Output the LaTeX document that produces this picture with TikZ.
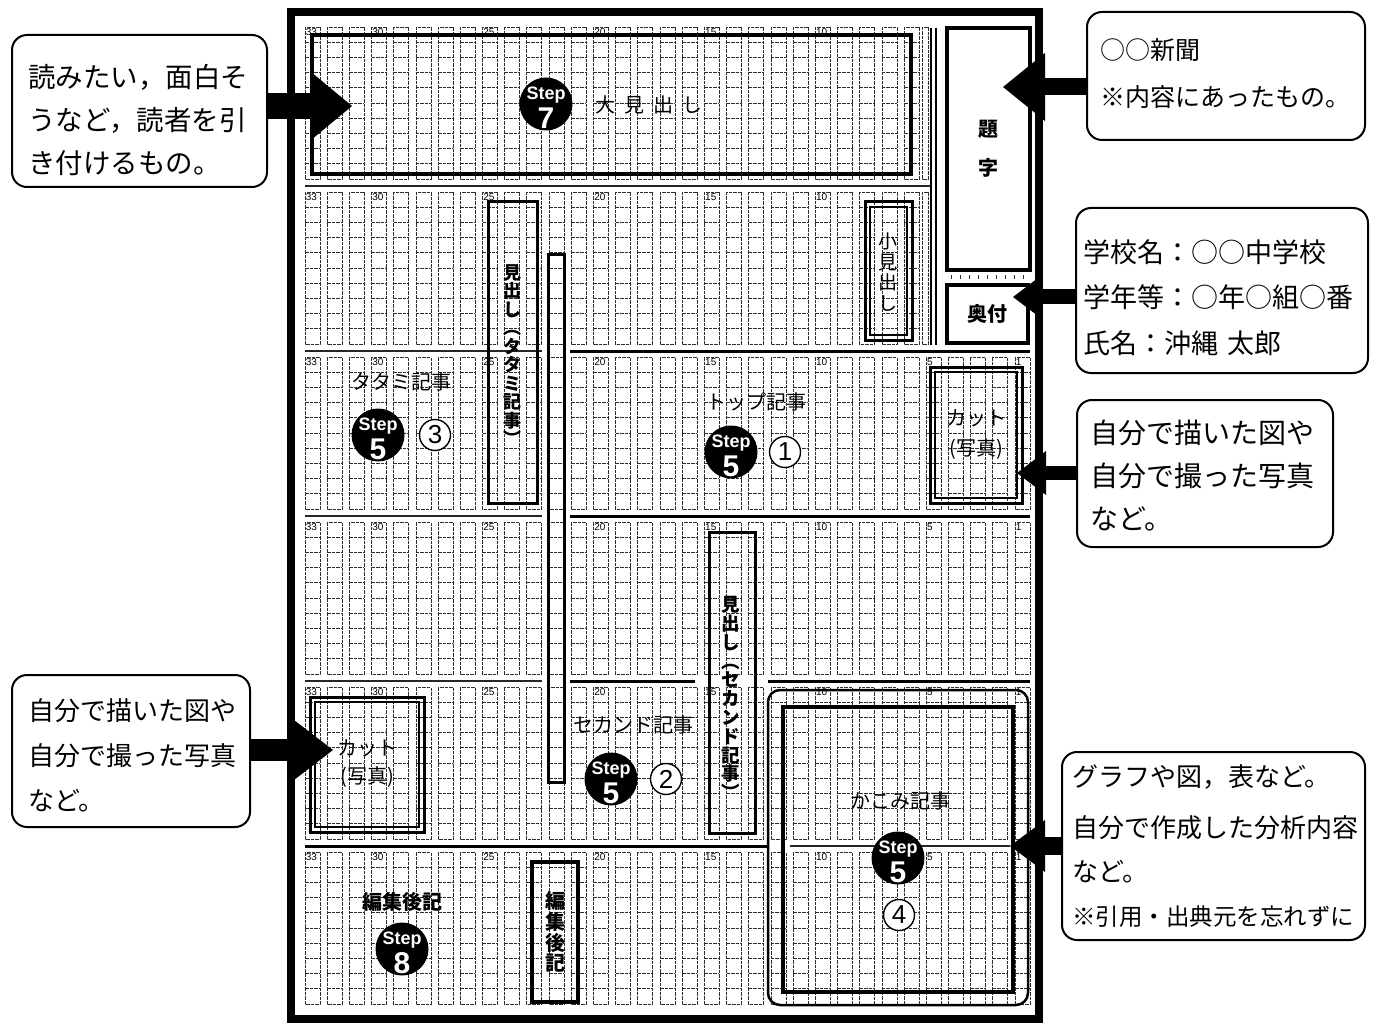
\documentclass[tikz,border=0pt]{standalone}
\usepackage{fontspec}
\setmainfont{Liberation Sans}
\newfontfamily\jp{Noto Sans CJK JP}
\newfontfamily\lat{Liberation Sans}
\usetikzlibrary{arrows.meta}
\newcommand\fs[2]{\fontsize{#1}{#2}\selectfont}
\newcommand\stepmark[4]{%
  \node[stepc] (#1) at (#2,#3) {};
  \node[stepword] (#1w) at ([yshift=8.5pt]#1.center) {Step};
  \node[stepnum] (#1n) at ([yshift=-14pt]#1.center) {#4};
}
\begin{document}
\begin{tikzpicture}[x=1pt,y=-1pt,
  gridcell/.style={draw=black!82, line width=0.9pt, dash pattern=on 3.5pt off 1pt},
  thinsep/.style={draw=black!85, line width=1.3pt},
  thicksep/.style={draw=black, line width=3pt},
  numlbl/.style={font=\lat\fs{10}{10}, inner sep=0.3pt, anchor=north west},
  tbox/.style={draw=black, inner sep=0pt},
  lbl/.style={font=\jp\fs{20}{20}, inner sep=0pt},
  vlbl/.style={font=\jp\bfseries\fs{18}{18.5}, inner sep=0pt, align=center},
  stepc/.style={circle, fill=black, minimum size=53pt, inner sep=0pt},
  stepword/.style={font=\lat\bfseries\fs{18}{18}, text=white, inner sep=0pt},
  stepnum/.style={font=\lat\bfseries\fs{30}{30}, text=white, inner sep=0pt},
  cnum/.style={circle, draw=black, fill=white, line width=1.4pt, minimum size=31pt, inner sep=0pt, font=\lat\fs{26}{26}},
  callout/.style={draw=black, fill=white, line width=2pt, rounded corners=15pt, align=left, inner ysep=0pt},
  bigarrow/.style n args={3}{line width=#1pt, -{Triangle[length=#2pt,width=#3pt,line width=0pt]}},
]
\useasboundingbox (0,0) rectangle (1376,1024);
\fill[white] (0,0) rectangle (1376,1024);

% ---------- manuscript grid ----------
\foreach \b/\kmin in {0/6,1/6,2/1,3/1,4/1,5/1}{
  \pgfmathsetmacro\yt{27+165*\b}
  \foreach \k in {33,...,\kmin}{
    \pgfmathsetmacro\xl{305+22.19*(33-\k)}
    \draw[gridcell] (\xl,\yt) rectangle ++(15,152);
    \foreach \r in {1,...,9}{\draw[gridcell] (\xl,\yt+15.2*\r) -- ++(15,0);}
  }
  \foreach \k in {33,30,25,20,15,10,5,1}{
    \ifnum\k<\kmin\relax\else
      \pgfmathsetmacro\xl{305+22.19*(33-\k)}
      \node[numlbl] (n\b-\k) at (\xl+0.3,\yt+1.2) {\k};
    \fi
  }
}
\foreach \b in {0,1}{
  \pgfmathsetmacro\yt{27+165*\b}
  \draw[gridcell] (922,\yt) rectangle (928,\yt+152);
}
% double rule beside the title column
\draw[line width=1.5pt] (931,28) -- (931,345);
\draw[line width=1.5pt] (936,28) -- (936,345);
\draw[black!80, line width=4pt, dash pattern=on 1pt off 8pt] (951,277) -- (1028,277);

% ---------- separators ----------
\draw[thinsep] (305,186) -- (930,186);
\draw[thinsep] (305,351) -- (542,351);
\draw[thicksep] (570,351) -- (1030,351);
\draw[thinsep] (305,516) -- (542,516);
\draw[thicksep] (570,516) -- (1030,516);
\draw[thinsep] (305,681) -- (542,681);
\draw[thicksep] (570,681) -- (695,681);
\draw[thicksep] (768,681) -- (1030,681);
\draw[thicksep] (305,846) -- (768,846);
\draw[thinsep] (790,846) -- (1010,846);

% ---------- layout boxes ----------
\node[tbox, line width=4pt, minimum width=599pt, minimum height=139pt] (bigbox) at (611.5,104.5) {};
\node[tbox, line width=3pt, minimum width=16pt, minimum height=527pt] (bar) at (556,518.5) {};
\node[tbox, line width=3pt, minimum width=49pt, minimum height=301pt] (midTatami) at (512.5,352.5) {};
\node[tbox, line width=3pt, minimum width=46pt, minimum height=301pt] (midSecond) at (732,682.5) {};
\node[tbox, line width=3.5pt, minimum width=46pt, minimum height=140pt] (henshuBox) at (555,932) {};
\node[tbox, line width=3pt, minimum width=47pt, minimum height=138pt] (komiO) at (888.5,271) {};
\node[tbox, line width=1.2pt, minimum width=37pt, minimum height=128pt] (komiI) at (888.5,271) {};
\node[tbox, line width=3pt, minimum width=92pt, minimum height=136pt] (cutRO) at (976,435) {};
\node[tbox, line width=1.2pt, minimum width=82pt, minimum height=126pt] (cutRI) at (976,435) {};
\node[tbox, line width=3pt, minimum width=114pt, minimum height=135pt] (cutLO) at (367,764.5) {};
\node[tbox, line width=1.2pt, minimum width=104pt, minimum height=125pt] (cutLI) at (367,764.5) {};
\node[tbox, line width=2.5pt, rounded corners=12pt, minimum width=260pt, minimum height=315pt] (kakomiO) at (898,847.5) {};
\node[tbox, line width=3.5pt, minimum width=230pt, minimum height=285pt] (kakomiI) at (898,849.5) {};
\node[tbox, fill=white, line width=3.5pt, minimum width=83pt, minimum height=242pt, font=\jp\bfseries\fs{20}{39}, align=center] (daiji) at (988.5,149) {題\\字};
\node[tbox, fill=white, line width=3.5pt, minimum width=81pt, minimum height=58pt, font=\jp\bfseries\fs{20}{20}] (okuzuke) at (987.5,314) {奥付};

% ---------- labels ----------
\node[lbl] (lOmi) at (649,105) {大\hspace{9pt}見\hspace{9pt}出\hspace{9pt}し};
\node[lbl] (lTop) at (756,402) {トップ記事};
\node[lbl] (lTatami) at (401,382) {タタミ記事};
\node[lbl] (lSecond) at (633,725) {セカンド記事};
\node[lbl] (lKakomi) at (900,801) {かこみ記事};
\node[lbl, font=\jp\bfseries\fs{20}{20}] (lHenshu) at (402,902) {編集後記};
\node[lbl, align=center, font=\jp\fs{20}{30}] (lCutR) at (976,435) {カット\\(写真)};
\node[lbl, align=center, font=\jp\fs{20}{28}] (lCutL) at (367,764) {カット\\(写真)};
\node[vlbl] (vTatami) at (512,355) {見\\出\\し\\︵\\タ\\タ\\ミ\\記\\事\\︶};
\node[vlbl, font=\jp\bfseries\fs{18.5}{18.8}] (vSecond) at (731,698) {見\\出\\し\\︵\\セ\\カ\\ン\\ド\\記\\事\\︶};
\node[vlbl, font=\jp\fs{19}{20.7}] (vKomi) at (888,272) {小\\見\\出\\し};
\node[vlbl, font=\jp\bfseries\fs{20}{20.8}] (vHenshu) at (555,932) {編\\集\\後\\記};

% ---------- step marks and numbers ----------
\stepmark{s7}{546}{104}{7}
\stepmark{s5a}{378}{435}{5}
\stepmark{s5b}{731}{452}{5}
\stepmark{s5c}{611}{779}{5}
\stepmark{s5d}{898}{858}{5}
\stepmark{s8}{402}{949}{8}
\node[cnum] (q3) at (435,435) {3};
\node[cnum] (q1) at (785,452) {1};
\node[cnum] (q2) at (666,779) {2};
\node[cnum] (q4) at (899,915) {4};

% ---------- page frame ----------
\draw[line width=8pt] (291,12) rectangle (1039,1019);

% ---------- callouts ----------
\node[callout, font=\jp\fs{27.5}{43}, text width=223pt, inner xsep=16pt, minimum height=152pt, text height=10pt, text depth=57.2pt] (c1) at (139.5,111) {読みたい，面白そ\\うなど，読者を引\\き付けるもの。};
\node[callout, font=\jp\fs{26}{45}, text width=206pt, inner xsep=16pt, minimum height=152pt, text height=10pt, text depth=72pt] (c2) at (131,751) {自分で描いた図や\\自分で撮った写真\\など。};
\node[callout, font=\jp\fs{25}{47}, text width=252pt, inner xsep=13pt, minimum height=128pt, text height=10pt, text depth=43pt] (c3) at (1226,76) {○○新聞\\※内容にあったもの。};
\node[callout, font=\jp\fs{27}{45.5}, text width=278pt, inner xsep=7pt, minimum height=165pt, text height=10pt, text depth=66.4pt] (c4) at (1222,290.5) {学校名：○○中学校\\学年等：○年○組○番\\氏名：沖縄 太郎};
\node[callout, font=\jp\fs{28}{43}, text width=230pt, inner xsep=13pt, minimum height=147pt, text height=10pt, text depth=69.8pt] (c5) at (1205,473.5) {自分で描いた図や\\自分で撮った写真\\など。};
\node[callout, font=\jp\fs{26}{44}, text width=283pt, inner xsep=10pt, minimum height=188pt, text height=10pt, text depth=130pt] (c6) at (1213.5,846) {グラフや図，表など。\\[7pt]自分で作成した分析内容\\など。\\{\fs{23.5}{23.5}※引用・出典元を忘れずに}};

% ---------- arrows ----------
\coordinate (t1) at (352,106);
\coordinate (t2) at (333,750);
\coordinate (t3) at (1003,87);
\coordinate (t4) at (1013,297);
\coordinate (t5) at (1017,473);
\coordinate (t6) at (1010,846);
\draw[bigarrow={26}{41}{68}] (c1.east |- t1) -- (t1);
\draw[bigarrow={22}{39}{60}] (c2.east |- t2) -- (t2);
\draw[bigarrow={17}{42}{68}] (c3.west |- t3) -- (t3);
\draw[bigarrow={15}{29}{44}] (c4.west |- t4) -- (t4);
\draw[bigarrow={14}{29}{44}] (c5.west |- t5) -- (t5);
\draw[bigarrow={18}{35}{52}] (c6.west |- t6) -- (t6);
\end{tikzpicture}
\end{document}
